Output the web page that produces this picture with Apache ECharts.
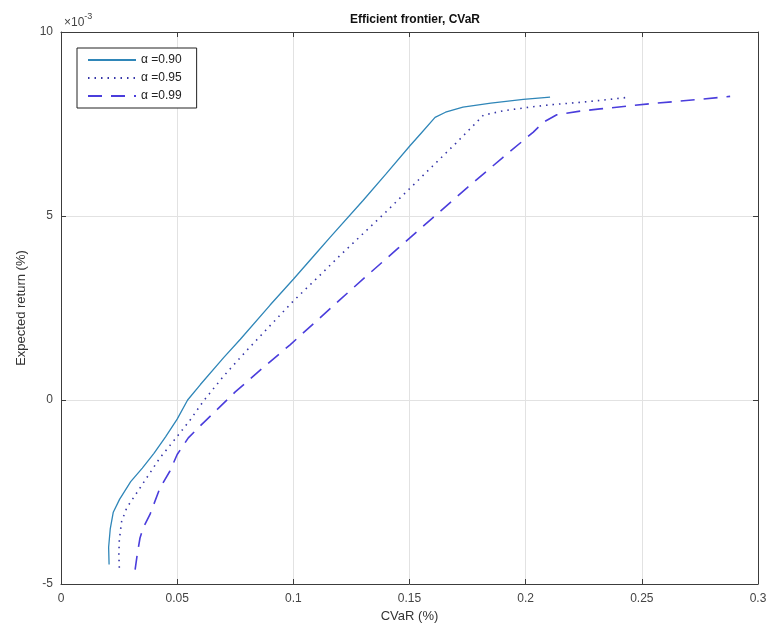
<!DOCTYPE html>
<html><head><meta charset="utf-8">
<script src="https://cdn.jsdelivr.net/npm/echarts@6/dist/echarts.min.js"></script>
<style>html,body{margin:0;padding:0;background:#fff}#c{width:770px;height:631px}</style>
</head><body><div id="c"></div>
<script>
// Values: x = CVaR, y = expected return in units of 1e-3
const seriesNames = ['\u03b1 =0.90', '\u03b1 =0.95', '\u03b1 =0.99'];
const xTicks = [0, 0.05, 0.1, 0.15, 0.2, 0.25, 0.3];
const yTicks = [-5, 0, 5, 10];
const alpha90 = [
 [0.0207,-4.47],[0.0205,-4.0],[0.0212,-3.5],[0.0225,-3.05],[0.0252,-2.70],[0.030,-2.22],
 [0.035,-1.85],[0.040,-1.45],[0.045,-1.00],[0.050,-0.52],[0.0545,0.0],[0.060,0.42],
 [0.070,1.15],[0.0772,1.65],[0.090,2.58],[0.100,3.28],[0.110,4.00],[0.1158,4.42],
 [0.130,5.42],[0.140,6.15],[0.1502,6.91],[0.155,7.25],[0.161,7.68],[0.1655,7.82],
 [0.173,7.96],[0.185,8.07],[0.199,8.17],[0.2105,8.23]
];
const alpha95 = [
 [0.0251,-4.56],[0.0249,-4.2],[0.0251,-3.8],[0.0261,-3.30],[0.0283,-2.93],[0.034,-2.39],
 [0.0426,-1.57],[0.049,-1.07],[0.0555,-0.55],[0.0613,-0.03],[0.070,0.65],[0.080,1.35],
 [0.090,2.02],[0.100,2.69],[0.110,3.30],[0.120,3.92],[0.130,4.52],[0.140,5.12],
 [0.150,5.74],[0.160,6.36],[0.170,6.98],[0.1789,7.55],[0.1818,7.74],[0.1904,7.86],
 [0.2019,7.96],[0.212,8.03],[0.222,8.08],[0.232,8.14],[0.2449,8.23]
];
const alpha99 = [
 [0.0319,-4.61],[0.0328,-4.2],[0.034,-3.75],[0.0354,-3.47],[0.0383,-3.11],[0.0426,-2.39],
 [0.0469,-1.93],[0.0500,-1.48],[0.0548,-1.03],[0.0598,-0.71],[0.0649,-0.40],[0.075,0.22],
 [0.087,0.88],[0.0986,1.50],[0.110,2.15],[0.120,2.72],[0.1308,3.33],[0.145,4.12],
 [0.160,4.95],[0.175,5.78],[0.190,6.58],[0.2033,7.28],[0.2076,7.55],[0.2134,7.75],
 [0.2234,7.85],[0.232,7.91],[0.2535,8.05],[0.2751,8.17],[0.288,8.25]
];
const seriesData = [alpha90, alpha95, alpha99];
const colors = ['#2f86b8', '#3535a8', '#4a3ddc'];
const dashTypes = ['solid', [1.5, 5], [14, 9]];
const widths = [1.3, 1.6, 1.6];

const FONT = 'Liberation Sans, Arial, sans-serif';
const chart = echarts.init(document.getElementById('c'));
const baseX = {
  type: 'value', min: 0, max: 0.3, interval: 0.05,
  axisLine: {show: true, onZero: false, lineStyle: {color: '#3c3c3c', width: 1}},
  axisTick: {show: true, inside: true, length: 5, lineStyle: {color: '#3c3c3c'}},
  splitLine: {show: false}
};
const baseY = {
  type: 'value', min: -5, max: 10, interval: 5,
  axisLine: {show: true, onZero: false, lineStyle: {color: '#3c3c3c', width: 1}},
  axisTick: {show: true, inside: true, length: 5, lineStyle: {color: '#3c3c3c'}},
  splitLine: {show: false}
};
chart.setOption({
  backgroundColor: '#ffffff',
  animation: false,
  textStyle: {fontFamily: FONT},
  title: {
    text: 'Efficient frontier, CVaR', left: 410, top: 9, textAlign: 'center',
    textStyle: {fontSize: 12, fontWeight: 'bold', color: '#111', fontFamily: FONT}
  },
  grid: {left: 61, right: 12, top: 32, bottom: 47, containLabel: false},
  legend: {
    show: true,
    orient: 'vertical', left: 77, top: 48,
    itemWidth: 48, itemHeight: 10, itemGap: 6,
    padding: [6, 15, 6, 10],
    borderColor: '#222', borderWidth: 1, backgroundColor: '#fff',
    itemStyle: {opacity: 0},
    textStyle: {fontSize: 12, color: '#222', fontFamily: FONT},
    data: seriesNames
  },
  xAxis: [
    Object.assign({}, baseX, {
      position: 'bottom',
      name: 'CVaR (%)', nameLocation: 'middle', nameGap: 23,
      nameTextStyle: {fontSize: 13, color: '#333', fontFamily: FONT},
      axisLabel: {fontSize: 12, color: '#444', margin: 9,
        formatter: v => { const t = xTicks.find(k => Math.abs(k - v) < 1e-9); return t === undefined ? '' : String(t); }},
      splitLine: {show: true, lineStyle: {color: '#e2e2e2', width: 1}}
    }),
    Object.assign({}, baseX, {position: 'top', axisLabel: {show: false}})
  ],
  yAxis: [
    Object.assign({}, baseY, {
      position: 'left',
      name: 'Expected return (%)', nameLocation: 'middle', nameGap: 33, nameRotate: 90,
      nameTextStyle: {fontSize: 13, color: '#333', fontFamily: FONT},
      axisLabel: {fontSize: 12, color: '#444', margin: 8,
        formatter: v => { const t = yTicks.find(k => Math.abs(k - v) < 1e-9); return t === undefined ? '' : String(t); }},
      splitLine: {show: true, lineStyle: {color: '#e2e2e2', width: 1}}
    }),
    Object.assign({}, baseY, {position: 'right', axisLabel: {show: false}})
  ],
  graphic: [{
    type: 'text', left: 64, top: 12,
    style: {
      text: '{a|\u00d710}{b|-3}',
      rich: {
        a: {fontSize: 12, fill: '#444', fontFamily: FONT, verticalAlign: 'bottom'},
        b: {fontSize: 9, fill: '#444', fontFamily: FONT, verticalAlign: 'top', padding: [0, 0, 8, 0]}
      }
    }
  }],
  series: seriesData.map((d, i) => ({
    name: seriesNames[i], type: 'line', data: d, symbol: 'none', smooth: false,
    xAxisIndex: 0, yAxisIndex: 0,
    lineStyle: {color: colors[i], width: widths[i], type: dashTypes[i]},
    itemStyle: {color: colors[i]}
  }))
});
</script></body></html>
